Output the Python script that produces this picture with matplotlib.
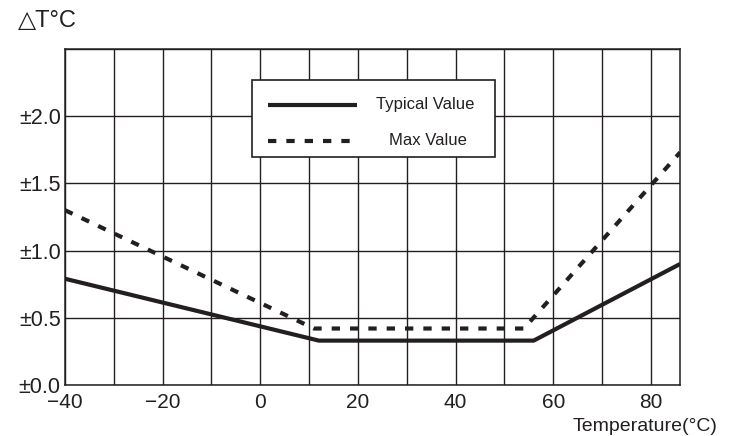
import matplotlib.pyplot as plt
from matplotlib.patches import Rectangle

# curve data
temp_typ = [-40, 12, 56, 86]
dev_typ = [0.79, 0.33, 0.33, 0.90]
temp_max = [-40, 11, 54, 86]
dev_max = [1.30, 0.42, 0.42, 1.73]

x_ticks = [-40, -20, 0, 20, 40, 60, 80]
x_grid = list(range(-40, 81, 10))
y_ticks = [0.0, 0.5, 1.0, 1.5, 2.0]
y_labels = ["±0.0", "±0.5", "±1.0", "±1.5", "±2.0"]

ink = "#231f20"
plt.rcParams['font.family'] = ['Liberation Sans', 'DejaVu Sans']

fig = plt.figure(figsize=(7.34, 4.36), dpi=100)
ax = fig.add_axes([0.0886, 0.117, 0.838, 0.771])

ax.set_xlim(-40, 86)
ax.set_ylim(0, 2.5)
ax.set_xticks(x_ticks)
ax.set_xticks(x_grid, minor=True)
ax.set_yticks(y_ticks)
ax.set_yticklabels(y_labels)
ax.set_yticks([0.5, 1.0, 1.5, 2.0, 2.5], minor=True)
ax.tick_params(which='both', length=0)
ax.tick_params(axis='x', labelsize=15, pad=6, colors=ink)
ax.tick_params(axis='y', labelsize=15.5, pad=3, colors=ink)
ax.grid(which='both', color=ink, lw=1.0)
ax.set_axisbelow(True)
for s in ax.spines.values():
    s.set_color(ink)
    s.set_linewidth(1.1)

ax.plot(temp_typ, dev_typ, color=ink, lw=3, solid_capstyle='butt', zorder=3)
ax.plot(temp_max, dev_max, color=ink, lw=3, dashes=(2.0, 2.4), dash_capstyle='butt', zorder=3)

# legend box drawn by hand
ax.add_patch(Rectangle((0.304, 0.679), 0.395, 0.229, transform=ax.transAxes,
                       facecolor='white', edgecolor=ink, lw=1.2, zorder=4))
ax.plot([0.330, 0.475], [0.833, 0.833], transform=ax.transAxes, color=ink, lw=3,
        solid_capstyle='butt', zorder=5)
ax.plot([0.330, 0.475], [0.726, 0.726], transform=ax.transAxes, color=ink, lw=3,
        dashes=(2.0, 2.4), dash_capstyle='butt', zorder=5)
ax.text(0.585, 0.833, "Typical Value", transform=ax.transAxes, ha='center', va='center',
        fontsize=12, color=ink, zorder=5)
ax.text(0.590, 0.726, "Max Value", transform=ax.transAxes, ha='center', va='center',
        fontsize=12, color=ink, zorder=5)

fig.text(0.024, 0.952, "△T°C", fontsize=17, color=ink, ha='left', va='center')
fig.text(0.978, 0.022, "Temperature(°C)", fontsize=14, color=ink, ha='right', va='center')

fig.savefig("out.png", dpi=100)
